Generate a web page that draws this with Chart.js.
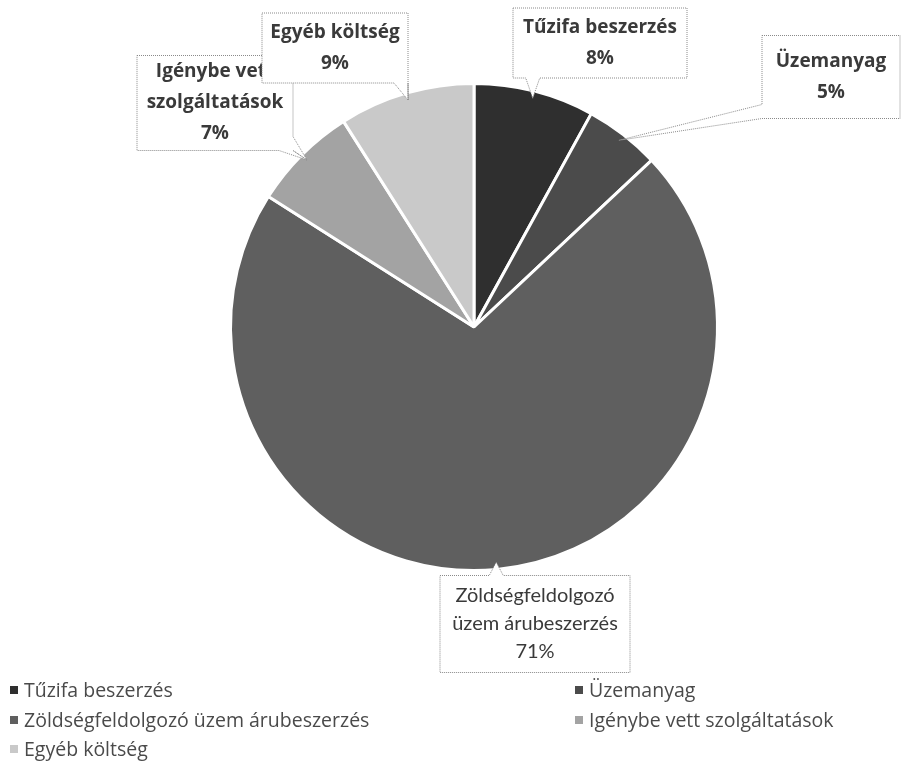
<!DOCTYPE html>
<html>
<head>
<meta charset="utf-8">
<script src="https://cdn.jsdelivr.net/npm/chart.js@4"></script>
<style>
  html, body { margin: 0; padding: 0; background: #fff; }
  #wrap { position: relative; width: 903px; height: 766px; }
  #legend { position: absolute; left: 10px; top: 676px; width: 880px; font-family: "Open Sans", Lato, sans-serif; font-size: 19.5px; line-height: 27px; color: #4a4a4a; }
  #legend div { position: absolute; white-space: nowrap; }
  #legend span.sw { display: inline-block; width: 8px; height: 8px; margin-right: 6px; vertical-align: 3px; }
</style>
</head>
<body>
<div id="wrap">
  <canvas id="pie" width="903" height="766"></canvas>
  <div id="legend"></div>
</div>
<script>
// ===== データ =====
const categories = ["Tűzifa beszerzés", "Üzemanyag", "Zöldségfeldolgozó üzem árubeszerzés", "Igénybe vett szolgáltatások", "Egyéb költség"];
const values = [8, 5, 71, 7, 9];
const colors = ["#2f2f2f", "#4b4b4b", "#5f5f5f", "#a3a3a3", "#c9c9c9"];

// label box lines (as wrapped in the original)
const labelLines = [
  ["Tűzifa beszerzés"],
  ["Üzemanyag"],
  ["Zöldségfeldolgozó", "üzem árubeszerzés"],
  ["Igénybe vett", "szolgáltatások"],
  ["Egyéb költség"]
];

// box centre offset from pie centre, and box size
const boxPlace = [
  { dx: 126, dy: -284, w: 174, h: 70 },
  { dx: 357, dy: -250, w: 138, h: 83 },
  { dx: 61, dy: 297, w: 190, h: 97 },
  { dx: -259, dy: -224, w: 156, h: 95 },
  { dx: -139, dy: -279, w: 146, h: 70 }
];

// ===== 吹き出しラベル =====
function boxPath(ctx, x0, y0, x1, y1, tip) {
  const half = 7;
  ctx.beginPath();
  ctx.moveTo(x0, y0);
  if (tip.y < y0) {
    const bx = Math.min(Math.max(tip.x, x0 + half), x1 - half);
    ctx.lineTo(bx - half, y0); ctx.lineTo(tip.x, tip.y); ctx.lineTo(bx + half, y0);
  }
  ctx.lineTo(x1, y0);
  if (tip.x > x1 && tip.y >= y0) {
    const by = Math.min(Math.max(tip.y, y0 + half), y1 - half);
    ctx.lineTo(x1, by - half); ctx.lineTo(tip.x, tip.y); ctx.lineTo(x1, by + half);
  }
  ctx.lineTo(x1, y1);
  if (tip.y > y1 && tip.x >= x0 && tip.x <= x1 + 40) {
    const bx = Math.min(Math.max(tip.x, x0 + half), x1 - half);
    ctx.lineTo(bx + half, y1); ctx.lineTo(tip.x, tip.y); ctx.lineTo(bx - half, y1);
  }
  ctx.lineTo(x0, y1);
  if (tip.x < x0 && tip.y >= y0 && tip.y <= y1 + 40) {
    const by = Math.min(Math.max(tip.y, y0 + half), y1 - half);
    ctx.lineTo(x0, by + half); ctx.lineTo(tip.x, tip.y); ctx.lineTo(x0, by - half);
  }
  ctx.closePath();
}

const calloutPlugin = {
  id: "callouts",
  afterDatasetsDraw(chart) {
    const ctx = chart.ctx;
    const meta = chart.getDatasetMeta(0);
    const total = values.reduce((a, b) => a + b, 0);
    meta.data.forEach((arc, i) => {
      const p = arc.getProps(["x", "y", "startAngle", "endAngle", "outerRadius"], true);
      const mid = (p.startAngle + p.endAngle) / 2;
      const tip = { x: p.x + Math.cos(mid) * p.outerRadius * 0.97, y: p.y + Math.sin(mid) * p.outerRadius * 0.97 };
      const b = boxPlace[i];
      const cx = p.x + b.dx, cy = p.y + b.dy;
      const x0 = cx - b.w / 2, y0 = cy - b.h / 2, x1 = cx + b.w / 2, y1 = cy + b.h / 2;

      ctx.save();
      boxPath(ctx, x0, y0, x1, y1, tip);
      ctx.fillStyle = "#fff";
      ctx.fill();
      ctx.setLineDash([1, 1]);
      ctx.strokeStyle = "#8a8a8a";
      ctx.lineWidth = 1;
      ctx.stroke();
      ctx.setLineDash([]);

      // clip text to box
      ctx.beginPath();
      ctx.rect(x0 + 1, y0 + 1, b.w - 2, b.h - 2);
      ctx.clip();
      const big = i === 2;
      ctx.font = big ? "20px Lato, 'Open Sans', sans-serif" : "bold 19px 'Open Sans', Lato, sans-serif";
      ctx.fillStyle = "#3a3a3a";
      ctx.textAlign = "center";
      ctx.textBaseline = "middle";
      const lines = labelLines[i].concat([Math.round(values[i] / total * 100) + "%"]);
      const lh = big ? 28 : 31;
      const startY = cy - (lines.length - 1) * lh / 2;
      lines.forEach((t, k) => ctx.fillText(t, cx, startY + k * lh));
      ctx.restore();
    });
  }
};

new Chart(document.getElementById("pie"), {
  type: "pie",
  data: {
    labels: categories,
    datasets: [{
      data: values,
      backgroundColor: colors,
      borderColor: "#fff",
      borderWidth: 3
    }]
  },
  options: {
    responsive: false,
    animation: false,
    layout: { padding: { top: 82, bottom: 194, left: 229, right: 184 } },
    plugins: {
      legend: { display: false },
      tooltip: { enabled: false }
    }
  },
  plugins: [calloutPlugin]
});

// ===== 凡例 =====
const legendPos = [[0, 0], [565, 0], [0, 30], [565, 30], [0, 59]];
document.getElementById("legend").innerHTML = categories.map((c, i) =>
  `<div style="left:${legendPos[i][0]}px;top:${legendPos[i][1]}px"><span class="sw" style="background:${colors[i]}"></span>${c}</div>`
).join("");
</script>
</body>
</html>
